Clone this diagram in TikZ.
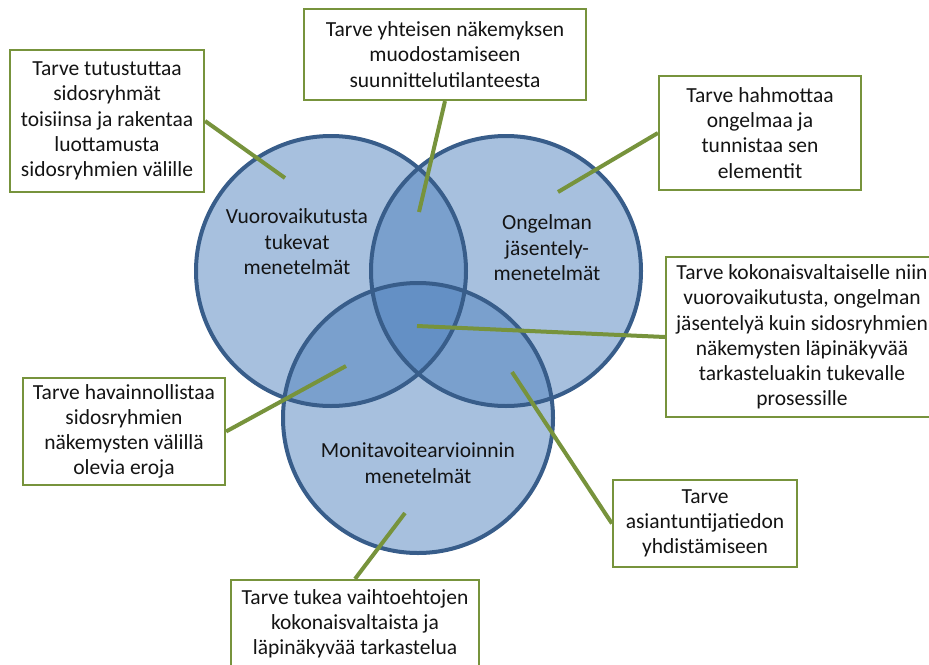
\documentclass[tikz,border=0pt]{standalone}
\usepackage{fontspec}
\setmainfont{Carlito}
\definecolor{venncol}{HTML}{4F81BD}
\definecolor{vennborder}{HTML}{385D8A}
\definecolor{boxgreen}{HTML}{77933C}
\definecolor{txt}{HTML}{141414}
\begin{document}
\begin{tikzpicture}[x=1pt,y=-1pt,
  venn/.style={circle, minimum size=270pt, inner sep=0pt, fill=venncol, fill opacity=0.5},
  vennline/.style={draw=vennborder, line width=4pt},
  bx/.style={draw=boxgreen, line width=2.2pt, fill=white, align=center, inner sep=0pt, text=txt, font=\fontsize{21.5}{25.2}\selectfont},
  conn/.style={draw=boxgreen, line width=4pt},
  lbl/.style={align=center, text=txt, font=\fontsize{21.5}{25.5}\selectfont}]
\useasboundingbox (0,0) rectangle (929,664);
\clip (0,0) rectangle (929,664);
% circles
\node[venn] (cL) at (331,271) {};
\node[venn] (cR) at (506,271) {};
\node[venn] (cB) at (418,418) {};
\draw[vennline] (cL.center) circle[radius=135pt];
\draw[vennline] (cR.center) circle[radius=135pt];
\draw[vennline] (cB.center) circle[radius=135pt];
% circle labels
\node[lbl] (lL) at (297,242) {Vuorovaikutusta\\tukevat\\menetelmät};
\node[lbl] (lR) at (547,248) {Ongelman\\jäsentely-\\menetelmät};
\node[lbl] (lB) at (418,463) {Monitavoitearvioinnin\\menetelmät};
% connector end points
\coordinate (p1) at (285,178);
\coordinate (p2) at (419,212);
\coordinate (p3) at (558,192);
\coordinate (p4) at (417,326);
\coordinate (p5) at (346,366);
\coordinate (p6) at (405,513);
\coordinate (p7) at (512,372);
% boxes
\node[bx, minimum width=194pt, minimum height=142pt] (b1) at (107,121) {Tarve tutustuttaa\\sidosryhmät\\toisiinsa ja rakentaa\\luottamusta\\sidosryhmien välille};
\node[bx, minimum width=282pt, minimum height=91pt] (b2) at (445,54.5) {Tarve yhteisen näkemyksen\\muodostamiseen\\suunnittelutilanteesta};
\node[bx, minimum width=202pt, minimum height=114pt] (b3) at (760,133) {Tarve hahmottaa\\ongelmaa ja\\tunnistaa sen\\elementit};
\node[bx, minimum width=272pt, minimum height=160pt] (b4) at (802,337) {Tarve kokonaisvaltaiselle niin\\vuorovaikutusta, ongelman\\jäsentelyä kuin sidosryhmien\\näkemysten läpinäkyvää\\tarkasteluakin tukevalle\\prosessille};
\node[bx, minimum width=202pt, minimum height=107pt] (b5) at (124,431.5) {Tarve havainnollistaa\\sidosryhmien\\näkemysten välillä\\olevia eroja};
\node[bx, minimum width=248pt, minimum height=88pt] (b6) at (355,624) {Tarve tukea vaihtoehtojen\\kokonaisvaltaista ja\\läpinäkyvää tarkastelua};
\node[bx, minimum width=184pt, minimum height=87pt] (b7) at (705,523.5) {Tarve\\asiantuntijatiedon\\yhdistämiseen};
% connectors
\draw[conn] (b1.east) -- (p1);
\draw[conn] (b2.south) -- (p2);
\draw[conn] (b3.west) -- (p3);
\draw[conn] (b4.west) -- (p4);
\draw[conn] (b5.east) -- (p5);
\draw[conn] (b6.north) -- (p6);
\draw[conn] (b7.west) -- (p7);
\end{tikzpicture}
\end{document}
